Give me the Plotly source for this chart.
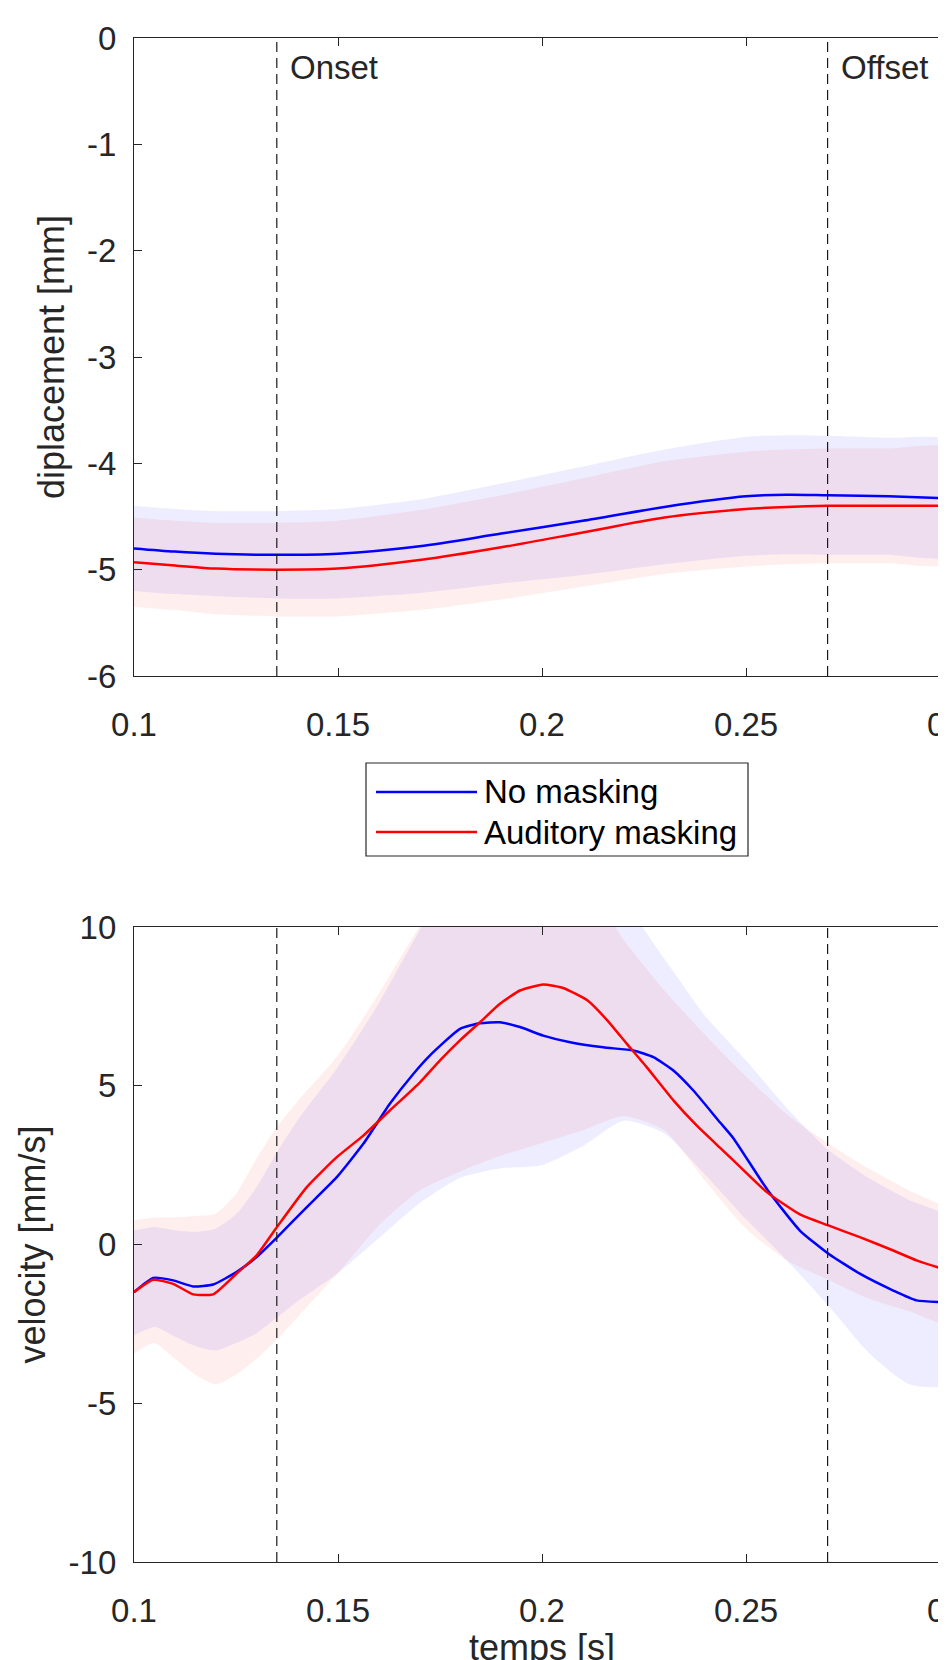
import plotly.graph_objects as go

# ---------------- data ----------------
series_names = ["No masking", "Auditory masking"]
line_colors = ["#0000ff", "#ff0000"]
band_colors = ["rgba(0,0,255,0.07)", "rgba(255,0,0,0.065)"]
onset_t = 0.135
offset_t = 0.27
event_labels = ["Onset", "Offset"]

# displacement (top panel)
t_disp = [0.1, 0.11, 0.12, 0.135, 0.15, 0.17, 0.19, 0.21, 0.23, 0.25, 0.26, 0.27, 0.285, 0.3]
disp_blue = [-4.80, -4.83, -4.85, -4.86, -4.85, -4.78, -4.66, -4.54, -4.41, -4.31, -4.295, -4.30, -4.31, -4.33]
disp_red = [-4.93, -4.96, -4.99, -5.00, -4.99, -4.91, -4.79, -4.65, -4.51, -4.43, -4.41, -4.40, -4.40, -4.40]
disp_blue_sd = [0.40, 0.40, 0.40, 0.41, 0.42, 0.44, 0.47, 0.51, 0.54, 0.56, 0.56, 0.56, 0.55, 0.54]
disp_red_sd = [0.42, 0.42, 0.43, 0.44, 0.45, 0.47, 0.49, 0.51, 0.53, 0.54, 0.54, 0.54, 0.54, 0.54]

# velocity (bottom panel)
t_vel_blue = [0.1, 0.1047, 0.1096, 0.1145, 0.1194, 0.1251, 0.13, 0.1347, 0.1423, 0.1497, 0.1562,
              0.1627, 0.1685, 0.1725, 0.1799, 0.1848, 0.1897, 0.1946, 0.2003, 0.2069, 0.215,
              0.2224, 0.2273, 0.2322, 0.2371, 0.2436, 0.2469, 0.2551, 0.2632, 0.2702, 0.2779,
              0.2861, 0.2918, 0.3]
vel_blue = [-1.50, -1.05, -1.13, -1.32, -1.26, -0.87, -0.40, 0.18, 1.17, 2.12, 3.17,
            4.43, 5.38, 5.95, 6.79, 6.97, 7.00, 6.85, 6.58, 6.37, 6.21,
            6.11, 5.90, 5.48, 4.85, 3.85, 3.35, 1.75, 0.44, -0.29, -0.92,
            -1.45, -1.76, -1.82]
t_vel_red = [0.1, 0.1047, 0.1096, 0.1145, 0.1194, 0.1251, 0.13, 0.1347, 0.1423, 0.1497, 0.1562,
             0.1627, 0.1701, 0.175, 0.1799, 0.1848, 0.1897, 0.1946, 0.2003, 0.2052, 0.2111,
             0.216, 0.2208, 0.2257, 0.2322, 0.2379, 0.2436, 0.2469, 0.2551, 0.2632, 0.2702,
             0.2779, 0.2861, 0.2918, 0.3]
vel_red = [-1.50, -1.11, -1.24, -1.57, -1.57, -0.92, -0.35, 0.49, 1.80, 2.75, 3.43,
           4.22, 5.11, 5.80, 6.43, 7.00, 7.58, 8.00, 8.19, 8.08, 7.69,
           7.06, 6.32, 5.58, 4.54, 3.75, 3.05, 2.65, 1.65, 0.95, 0.60,
           0.23, -0.19, -0.50, -0.84]

t_band = [0.1, 0.105, 0.11, 0.115, 0.12, 0.125, 0.13, 0.135, 0.14, 0.15, 0.16, 0.17, 0.18,
          0.19, 0.2, 0.21, 0.22, 0.23, 0.24, 0.25, 0.26, 0.27, 0.28, 0.29, 0.3]
vel_blue_up = [0.44, 0.55, 0.45, 0.40, 0.50, 0.95, 1.80, 2.90, 3.90, 5.60, 7.60, 9.90, 12.0,
               13.0, 13.0, 12.0, 10.8, 9.0, 7.2, 5.8, 4.3, 3.0, 2.1, 1.4, 0.8]
vel_blue_lo = [-2.87, -2.60, -2.90, -3.20, -3.34, -3.10, -2.80, -2.30, -1.80, -0.90, 0.20, 1.30, 2.10,
               2.40, 2.50, 3.10, 3.90, 3.50, 2.20, 0.80, -0.50, -1.90, -3.40, -4.40, -4.40]
vel_red_up = [0.76, 0.85, 0.86, 0.90, 0.97, 1.60, 2.70, 3.70, 4.50, 5.96, 7.90, 10.0, 11.5,
              12.5, 12.5, 11.5, 9.6, 8.0, 6.6, 5.3, 4.1, 3.2, 2.4, 1.7, 1.0]
vel_red_lo = [-3.43, -3.10, -3.60, -4.10, -4.40, -4.10, -3.60, -3.00, -2.30, -0.90, 0.60, 1.70, 2.30,
              2.80, 3.20, 3.60, 4.05, 3.60, 2.00, 0.50, -0.50, -1.10, -1.70, -2.10, -2.50]

x_ticks = [0.1, 0.15, 0.2, 0.25, 0.3]
disp_ticks = [0, -1, -2, -3, -4, -5, -6]
vel_ticks = [10, 5, 0, -5, -10]

# ---------------- figure ----------------
# The page body has an 8px margin, so figure coordinates are page coordinates minus 8.
W, H = 946, 1660
ML, MR = 126, 4           # plot area spans x = 126..942 (0.3 lands just past the visible page)
PW = W - ML - MR
FONT = "Liberation Sans, Arial, sans-serif"
INK = "#262626"
TICK_SIZE = 33
TITLE_SIZE = 36

fig = go.Figure()

def band(x, lo, hi, color, xa, ya):
    fig.add_trace(go.Scatter(x=list(x) + list(x)[::-1], y=list(hi) + list(lo)[::-1],
                             fill="toself", fillcolor=color, line=dict(width=0, shape="spline", smoothing=0.6),
                             mode="lines", hoverinfo="skip", showlegend=False, xaxis=xa, yaxis=ya))

for mean, sd, col in [(disp_blue, disp_blue_sd, band_colors[0]), (disp_red, disp_red_sd, band_colors[1])]:
    band(t_disp, [m - s for m, s in zip(mean, sd)], [m + s for m, s in zip(mean, sd)], col, "x", "y")
band(t_band, vel_blue_lo, vel_blue_up, band_colors[0], "x2", "y2")
band(t_band, vel_red_lo, vel_red_up, band_colors[1], "x2", "y2")

for xs, ys, nm, col, xa, ya, sm in [
    (t_disp, disp_blue, series_names[0], line_colors[0], "x", "y", 0.8),
    (t_disp, disp_red, series_names[1], line_colors[1], "x", "y", 0.8),
    (t_vel_blue, vel_blue, series_names[0], line_colors[0], "x2", "y2", 0.5),
    (t_vel_red, vel_red, series_names[1], line_colors[1], "x2", "y2", 0.5),
]:
    fig.add_trace(go.Scatter(x=xs, y=ys, name=nm, mode="lines",
                             line=dict(color=col, width=2.5, shape="spline", smoothing=sm),
                             showlegend=False, xaxis=xa, yaxis=ya))

# vertical event lines
for xr, yd in [("x", "y domain"), ("x2", "y2 domain")]:
    for t in (onset_t, offset_t):
        fig.add_shape(type="line", xref=xr, yref=yd, x0=t, x1=t, y0=0, y1=1,
                      line=dict(color="#1a1a1a", width=1.2, dash="10px,6px"), layer="above")

for t, lab_ in zip((onset_t, offset_t), event_labels):
    fig.add_annotation(x=t, y=1, xref="x", yref="y domain", text=lab_, showarrow=False,
                       xanchor="left", yanchor="middle", xshift=11, yshift=-29,
                       font=dict(family=FONT, size=TICK_SIZE, color=INK))

top_dom = [1 - 668 / H, 1 - 30 / H]
bot_dom = [1 - 1554 / H, 1 - 919 / H]

def lab(v):
    return f"{v:g}"

common_x = dict(range=[x_ticks[0], x_ticks[-1]], tickvals=x_ticks, ticktext=[lab(v) for v in x_ticks],
                showline=True, linecolor=INK, linewidth=1.2, mirror="ticks", ticks="inside",
                ticklen=8, tickcolor=INK, showgrid=False, zeroline=False, automargin=False,
                ticklabeloverflow="allow",
                tickfont=dict(family=FONT, size=TICK_SIZE, color=INK), ticklabelstandoff=19)
common_y = dict(showline=True, linecolor=INK, linewidth=1.2, mirror="ticks", ticks="inside",
                ticklen=8, tickcolor=INK, showgrid=False, zeroline=False, automargin=False,
                tickfont=dict(family=FONT, size=TICK_SIZE, color=INK), ticklabelstandoff=10)

fig.update_layout(
    width=W, height=H, margin=dict(l=ML, r=MR, t=0, b=0),
    paper_bgcolor="white", plot_bgcolor="white", showlegend=False,
    font=dict(family=FONT, color=INK),
    xaxis=dict(common_x, domain=[0, 1], anchor="y"),
    yaxis=dict(common_y, domain=top_dom, anchor="x", range=[-6, 0], tickvals=disp_ticks,
               ticktext=[lab(v) for v in disp_ticks],
               title=dict(text="diplacement [mm]", font=dict(family=FONT, size=TITLE_SIZE, color=INK), standoff=11)),
    xaxis2=dict(common_x, domain=[0, 1], anchor="y2",
                title=dict(text="temps [s]", font=dict(family=FONT, size=TITLE_SIZE, color=INK), standoff=24)),
    yaxis2=dict(common_y, domain=bot_dom, anchor="x2", range=[-10, 10], tickvals=vel_ticks,
                ticktext=[lab(v) for v in vel_ticks],
                title=dict(text="velocity [mm/s]", font=dict(family=FONT, size=TITLE_SIZE, color=INK), standoff=11)),
)

# legend box (between panels), built from shapes + text
def px_x(p):
    return (p - ML) / PW

lx0, lx1 = px_x(358), px_x(740)
ly0, ly1 = 1 - 848 / H, 1 - 755 / H
fig.add_shape(type="rect", xref="paper", yref="paper", x0=lx0, x1=lx1, y0=ly0, y1=ly1,
              line=dict(color=INK, width=1.2), fillcolor="white", layer="above")
for i, (nm, col) in enumerate(zip(series_names, line_colors)):
    yy = 1 - (784 + 40 * i) / H
    fig.add_shape(type="line", xref="paper", yref="paper", x0=px_x(368), x1=px_x(469), y0=yy, y1=yy,
                  line=dict(color=col, width=2.5))
    fig.add_annotation(x=px_x(474), y=yy, xref="paper", yref="paper", text=nm,
                       showarrow=False, xanchor="left", yanchor="middle",
                       font=dict(family=FONT, size=TICK_SIZE, color="#000000"))

fig.write_html("out.html")
